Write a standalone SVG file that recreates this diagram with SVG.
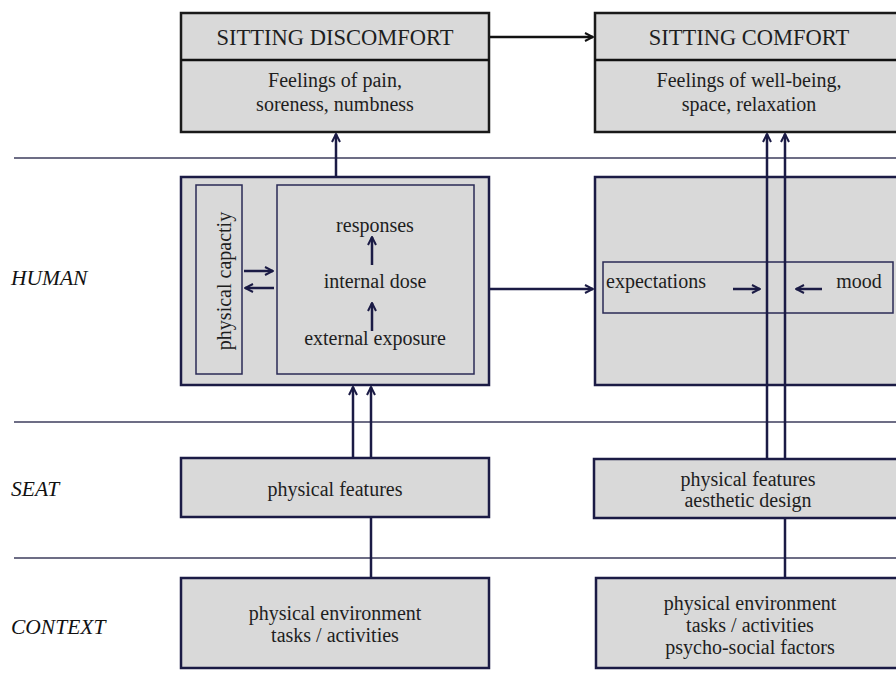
<svg xmlns="http://www.w3.org/2000/svg" width="896" height="683" viewBox="0 0 896 683">
<style>
.box{fill:#d9d9d9;stroke:#1b1b45;stroke-width:2.5}
.topbox{fill:#d9d9d9;stroke:#1a1a1a;stroke-width:2.5}
.inner{fill:#d9d9d9;stroke:#2a2a55;stroke-width:1.5}
.sep{stroke:#3c3c5c;stroke-width:1.5;fill:none}
.t{font-family:"Liberation Serif","DejaVu Serif",serif;fill:#1e1e1e;text-anchor:middle}
.h{font-size:22.5px}
.b{font-size:20px}
.lab{font-family:"Liberation Serif","DejaVu Serif",serif;font-style:italic;font-size:21.5px;fill:#111}
.c{stroke:#1b1b45;stroke-width:2.5;fill:none}
.k{stroke:#111;stroke-width:2.5;fill:none}
</style>
<defs>
<marker id="ak" viewBox="0 0 10 10" refX="9" refY="5" markerWidth="10" markerHeight="10" orient="auto" markerUnits="userSpaceOnUse"><path d="M1,1 L9,5 L1,9" fill="none" stroke="#111" stroke-width="2"/></marker>
<marker id="an" viewBox="0 0 10 10" refX="9" refY="5" markerWidth="10" markerHeight="10" orient="auto" markerUnits="userSpaceOnUse"><path d="M1,1 L9,5 L1,9" fill="none" stroke="#1b1b45" stroke-width="2"/></marker>
</defs>
<rect width="896" height="683" fill="#fff"/>
<g id="separators">
<line class="sep" x1="14" y1="158" x2="896" y2="158"/>
<line class="sep" x1="14" y1="422" x2="896" y2="422"/>
<line class="sep" x1="14" y1="558" x2="896" y2="558"/>
</g>
<g id="layer-labels">
<text class="lab" x="11" y="285">HUMAN</text>
<text class="lab" x="11" y="496">SEAT</text>
<text class="lab" x="11" y="634">CONTEXT</text>
</g>
<g id="discomfort">
<rect class="topbox" x="181" y="13" width="308" height="119"/>
<line class="k" x1="181" y1="60" x2="489" y2="60"/>
<text class="t h" x="335" y="45">SITTING DISCOMFORT</text>
<text class="t b" x="335" y="87">Feelings of pain,</text>
<text class="t b" x="335" y="111">soreness, numbness</text>
</g>
<g id="comfort">
<rect class="topbox" x="595" y="13" width="305" height="119"/>
<line class="k" x1="595" y1="60" x2="896" y2="60"/>
<text class="t h" x="749" y="45">SITTING COMFORT</text>
<text class="t b" x="749" y="87">Feelings of well-being,</text>
<text class="t b" x="749" y="111">space, relaxation</text>
</g>
<g id="human-left">
<rect class="box" x="181" y="177" width="308" height="208"/>
<rect class="inner" x="196" y="185" width="46" height="189"/>
<text class="t b" transform="translate(231,281) rotate(-90)">physical capactiy</text>
<rect class="inner" x="277" y="185" width="197" height="189"/>
<text class="t b" x="375" y="232">responses</text>
<text class="t b" x="375" y="288">internal dose</text>
<text class="t b" x="375" y="345">external exposure</text>
</g>
<g id="human-right">
<rect class="box" x="595" y="177" width="305" height="208"/>
<rect class="inner" x="603" y="262" width="290" height="51"/>
<text class="t b" x="606" y="288" style="text-anchor:start">expectations</text>
<text class="t b" x="859" y="288">mood</text>
</g>
<g id="seat-left">
<rect class="box" x="181" y="458" width="308" height="59"/>
<text class="t b" x="335" y="496">physical features</text>
</g>
<g id="seat-right">
<rect class="box" x="594" y="459" width="306" height="59"/>
<text class="t b" x="748" y="486">physical features</text>
<text class="t b" x="748" y="507">aesthetic design</text>
</g>
<g id="context-left">
<rect class="box" x="181" y="578" width="308" height="90"/>
<text class="t b" x="335" y="620">physical environment</text>
<text class="t b" x="335" y="642">tasks / activities</text>
</g>
<g id="context-right">
<rect class="box" x="596" y="578" width="304" height="90"/>
<text class="t b" x="750" y="610">physical environment</text>
<text class="t b" x="750" y="632">tasks / activities</text>
<text class="t b" x="750" y="654">psycho-social factors</text>
</g>
<g id="connectors">
<line class="k" x1="490" y1="37" x2="593" y2="37" marker-end="url(#ak)"/>
<line class="c" x1="336" y1="177" x2="336" y2="134" marker-end="url(#an)"/>
<line class="c" x1="490" y1="289" x2="593" y2="289" marker-end="url(#an)"/>
<line class="c" x1="244" y1="271" x2="273" y2="271" marker-end="url(#an)"/>
<line class="c" x1="274" y1="288" x2="245" y2="288" marker-end="url(#an)"/>
<line class="c" x1="372" y1="265" x2="372" y2="237" marker-end="url(#an)"/>
<line class="c" x1="372" y1="331" x2="372" y2="303" marker-end="url(#an)"/>
<line class="c" x1="733" y1="289" x2="760" y2="289" marker-end="url(#an)"/>
<line class="c" x1="822" y1="289" x2="796" y2="289" marker-end="url(#an)"/>
<line class="c" x1="353" y1="458" x2="353" y2="387" marker-end="url(#an)"/>
<line class="c" x1="371" y1="458" x2="371" y2="387" marker-end="url(#an)"/>
<line class="c" x1="371" y1="517" x2="371" y2="578"/>
<line class="c" x1="767" y1="459" x2="767" y2="134" marker-end="url(#an)"/>
<line class="c" x1="785" y1="459" x2="785" y2="134" marker-end="url(#an)"/>
<line class="c" x1="785" y1="518" x2="785" y2="578"/>
</g>
</svg>
